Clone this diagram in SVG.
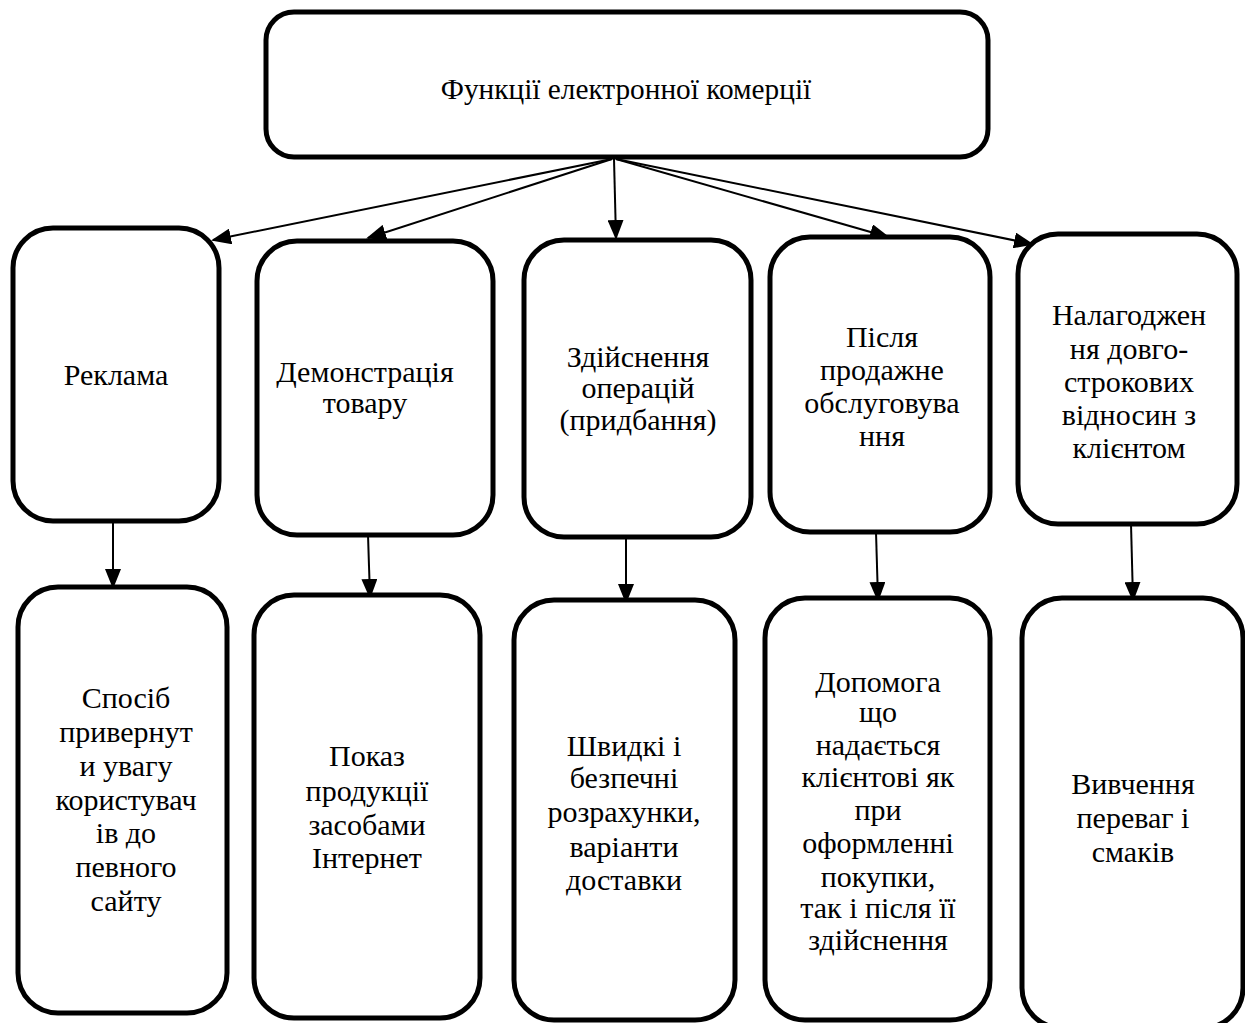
<svg xmlns="http://www.w3.org/2000/svg" width="1245" height="1023" viewBox="0 0 1245 1023">
<style>
.box{fill:#fff;stroke:#000;stroke-width:5}
.t{font-family:"Liberation Serif","Times New Roman",serif;font-size:30px;fill:#000;text-anchor:middle}
.c{stroke:#000;stroke-width:2;fill:none}
</style>
<defs>
<marker id="ahv" markerWidth="20" markerHeight="16" refX="18" refY="8" orient="auto" markerUnits="userSpaceOnUse" viewBox="0 0 20 16">
<path d="M0,0 L20,8 L0,16 z" fill="#000"/>
</marker>
</defs>
<rect width="1245" height="1023" fill="#fff"/>
<g id="connectors">
<line class="c" x1="612" y1="159" x2="213" y2="240" marker-end="url(#ahv)"/>
<line class="c" x1="612" y1="159" x2="368" y2="238" marker-end="url(#ahv)"/>
<line class="c" x1="614" y1="159" x2="616" y2="238" marker-end="url(#ahv)"/>
<line class="c" x1="616" y1="159" x2="888" y2="237" marker-end="url(#ahv)"/>
<line class="c" x1="616" y1="159" x2="1032" y2="244" marker-end="url(#ahv)"/>
<line class="c" x1="113" y1="522" x2="113" y2="587" marker-end="url(#ahv)"/>
<line class="c" x1="368" y1="535" x2="370" y2="597" marker-end="url(#ahv)"/>
<line class="c" x1="626" y1="537" x2="626" y2="602" marker-end="url(#ahv)"/>
<line class="c" x1="876" y1="532" x2="878" y2="600" marker-end="url(#ahv)"/>
<line class="c" x1="1131" y1="524" x2="1133" y2="600" marker-end="url(#ahv)"/>
</g>
<g id="root">
<rect class="box" x="266" y="12" width="722" height="145" rx="28"/>
<text class="t" x="626" y="99" style="font-size:29.3px">Функції електронної комерції</text>
</g>
<g id="n1">
<rect class="box" x="13" y="228" width="206" height="293" rx="40"/>
<text class="t" x="116" y="385">Реклама</text>
</g>
<g id="n2">
<rect class="box" x="257" y="241" width="236" height="294" rx="40"/>
<text class="t"><tspan x="365" y="382">Демонстрація</tspan><tspan x="365" y="413">товару</tspan></text>
</g>
<g id="n3">
<rect class="box" x="524" y="240" width="227" height="297" rx="40"/>
<text class="t"><tspan x="638" y="367">Здійснення</tspan><tspan x="638" y="398">операцій</tspan><tspan x="638" y="430">(придбання)</tspan></text>
</g>
<g id="n4">
<rect class="box" x="770" y="237" width="220" height="295" rx="40"/>
<text class="t"><tspan x="882" y="347">Після</tspan><tspan x="882" y="380">продажне</tspan><tspan x="882" y="413">обслуговува</tspan><tspan x="882" y="446">ння</tspan></text>
</g>
<g id="n5">
<rect class="box" x="1018" y="234" width="219" height="290" rx="40"/>
<text class="t"><tspan x="1129" y="325">Налагоджен</tspan><tspan x="1129" y="359">ня довго-</tspan><tspan x="1129" y="392">строкових</tspan><tspan x="1129" y="425">відносин з</tspan><tspan x="1129" y="458">клієнтом</tspan></text>
</g>
<g id="n6">
<rect class="box" x="18" y="587" width="209" height="426" rx="40"/>
<text class="t"><tspan x="126" y="708">Спосіб</tspan><tspan x="126" y="742">привернут</tspan><tspan x="126" y="776">и увагу</tspan><tspan x="126" y="810">користувач</tspan><tspan x="126" y="843">ів до</tspan><tspan x="126" y="877">певного</tspan><tspan x="126" y="911">сайту</tspan></text>
</g>
<g id="n7">
<rect class="box" x="254" y="595" width="226" height="423" rx="40"/>
<text class="t"><tspan x="367" y="766">Показ</tspan><tspan x="367" y="801">продукції</tspan><tspan x="367" y="835">засобами</tspan><tspan x="367" y="868">Інтернет</tspan></text>
</g>
<g id="n8">
<rect class="box" x="514" y="600" width="221" height="420" rx="40"/>
<text class="t"><tspan x="624" y="756">Швидкі і</tspan><tspan x="624" y="788">безпечні</tspan><tspan x="624" y="822">розрахунки,</tspan><tspan x="624" y="857">варіанти</tspan><tspan x="624" y="890">доставки</tspan></text>
</g>
<g id="n9">
<rect class="box" x="765" y="598" width="225" height="422" rx="40"/>
<text class="t"><tspan x="878" y="692">Допомога</tspan><tspan x="878" y="722">що</tspan><tspan x="878" y="755">надається</tspan><tspan x="878" y="787">клієнтові як</tspan><tspan x="878" y="820">при</tspan><tspan x="878" y="853">оформленні</tspan><tspan x="878" y="887">покупки,</tspan><tspan x="878" y="918">так і після її</tspan><tspan x="878" y="950">здійснення</tspan></text>
</g>
<g id="n10">
<rect class="box" x="1022" y="598" width="221" height="430" rx="40"/>
<text class="t"><tspan x="1133" y="794">Вивчення</tspan><tspan x="1133" y="828">переваг і</tspan><tspan x="1133" y="862">смаків</tspan></text>
</g>
</svg>
